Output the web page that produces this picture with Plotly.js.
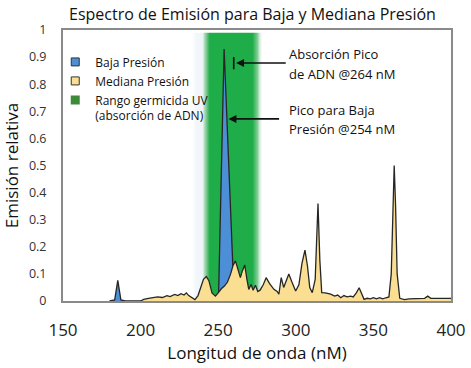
<!DOCTYPE html>
<html>
<head>
<meta charset="utf-8">
<script src="https://cdn.plot.ly/plotly-3.0.1.min.js"></script>
<style>html,body{margin:0;padding:0;background:#fff;}#chart{width:471px;height:368px;}</style>
</head>
<body>
<div id="chart"></div>
<script>
// Low pressure lamp spectrum (nm, relative emission)
const lowX = [180, 183.3, 185.3, 187.3, 190, 249.5, 250.3, 253.8, 259.5, 261];
const lowY = [0, 0.004, 0.076, 0.004, 0, 0, 0.035, 0.93, 0.12, 0];

// Medium pressure lamp spectrum
const medX = [200, 202, 205, 208, 211, 214, 217, 219, 222, 224, 226, 228, 229.5, 231, 233, 235, 237, 239, 240.5, 242.4, 244, 246, 248.2, 250, 252, 254, 256, 258, 259.5, 261.1, 262.5, 264.3, 265.5, 267.1, 268.5, 269.7, 271.2, 272.5, 274, 275.5, 277, 279, 280.9, 283, 285.9, 288, 289.1, 290.6, 292.2, 293.5, 295.5, 297.5, 299.9, 302, 304, 305.9, 307.5, 309, 310.6, 312.5, 314.3, 315.5, 316.7, 319, 322.5, 325, 327, 329, 331, 333, 335.4, 337, 339, 340.8, 342.3, 344, 346, 348, 350, 352, 354, 356, 358, 360, 361.5, 362.5, 363.4, 364.3, 365.3, 367, 370, 373, 376, 380, 383, 385, 387, 390, 395, 400];
const medY = [0, 0.006, 0.01, 0.012, 0.015, 0.013, 0.02, 0.016, 0.024, 0.02, 0.027, 0.022, 0.03, 0.02, 0.012, 0.005, 0.02, 0.05, 0.08, 0.09, 0.075, 0.03, 0.018, 0.03, 0.045, 0.055, 0.07, 0.1, 0.13, 0.148, 0.12, 0.086, 0.11, 0.133, 0.08, 0.043, 0.061, 0.04, 0.058, 0.035, 0.04, 0.06, 0.086, 0.065, 0.043, 0.035, 0.025, 0.086, 0.05, 0.07, 0.1, 0.07, 0.037, 0.06, 0.14, 0.188, 0.13, 0.05, 0.031, 0.08, 0.36, 0.15, 0.031, 0.03, 0.025, 0.018, 0.022, 0.012, 0.02, 0.015, 0.018, 0.015, 0.03, 0.049, 0.03, 0.006, 0.01, 0.008, 0.012, 0.008, 0.012, 0.008, 0.012, 0.015, 0.1, 0.35, 0.5, 0.35, 0.1, 0.01, 0.005, 0.008, 0.008, 0.01, 0.01, 0.018, 0.01, 0.01, 0.01, 0.01];

// Germicidal UV range (nm), including soft edges
const germicidalBand = [233, 279];

const seriesNames = ["Baja Presión", "Mediana Presión", "Rango germicida UV<br>(absorción de ADN)"];
const seriesColors = ["#4d8fd6", "#fadf93", "#3d8b3a"];

const xTicks = [150, 200, 250, 300, 350, 400];
const yTicks = [0, 0.1, 0.2, 0.3, 0.4, 0.5, 0.6, 0.7, 0.8, 0.9, 1];

const FONT = '"Open Sans", "Noto Sans", sans-serif';
const outline = "#262626";

const traces = [
  {
    x: [germicidalBand[0], germicidalBand[1], germicidalBand[1], germicidalBand[0], germicidalBand[0]],
    y: [0, 0, 0.99, 0.99, 0],
    mode: "lines", fill: "toself", line: {width: 0},
    fillgradient: {
      type: "horizontal",
      colorscale: [
        [0, "rgba(245,249,253,0)"],
        [0.06, "rgba(242,247,252,1)"],
        [0.15, "rgba(238,245,248,1)"],
        [0.185, "rgba(160,215,175,1)"],
        [0.25, "#1fad4a"],
        [0.85, "#1fad4a"],
        [0.92, "rgba(130,205,150,1)"],
        [1, "rgba(255,255,255,0)"]
      ]
    },
    hoverinfo: "skip", showlegend: false
  },
  {
    x: lowX, y: lowY, mode: "lines", fill: "tozeroy",
    fillcolor: seriesColors[0], line: {color: outline, width: 1.3},
    showlegend: false
  },
  {
    x: medX, y: medY, mode: "lines", fill: "tozeroy",
    fillcolor: seriesColors[1], line: {color: outline, width: 1.3},
    showlegend: false
  }
];

// Legend-only entries
seriesNames.forEach((n, i) => {
  traces.push({
    x: [null], y: [null], mode: "markers", name: n,
    marker: {symbol: "square", size: i < 2 ? 8 : 9, color: seriesColors[i],
             line: {color: i < 2 ? "#333" : seriesColors[i], width: i < 2 ? 1 : 0}},
    showlegend: true
  });
});

const arrowColor = "#111";
const textFont = {family: FONT, size: 13, color: "#111"};
const layout = {
  width: 471, height: 368,
  margin: {l: 63, r: 20, t: 30, b: 67},
  paper_bgcolor: "#fff", plot_bgcolor: "#fff",
  font: {family: FONT, color: "#111"},
  title: {
    text: "Espectro de Emisión para Baja y Mediana Presión",
    font: {family: FONT, size: 16, color: "#111"},
    x: 252.5/471, xref: "container", xanchor: "center",
    y: 1 - 14/368, yref: "container", yanchor: "middle"
  },
  xaxis: {
    range: [150, 400], tickvals: xTicks, ticktext: xTicks.map(String),
    showgrid: false, zeroline: false, showline: true, mirror: true,
    linecolor: "#8a8a8a", linewidth: 2, ticks: "",
    ticklabelstandoff: 13,
    tickfont: {family: FONT, size: 17, color: "#222"},
    title: {text: "Longitud de onda (nM)", font: {family: FONT, size: 17, color: "#111"}, standoff: 6}
  },
  yaxis: {
    range: [0, 1], tickvals: yTicks, ticktext: yTicks.map(String),
    showgrid: false, zeroline: false, showline: true, mirror: true,
    linecolor: "#8a8a8a", linewidth: 2, ticks: "",
    ticklabelstandoff: 12,
    tickfont: {family: FONT, size: 12.5, color: "#333"},
    title: {text: "Emisión relativa", font: {family: FONT, size: 17, color: "#111"}, standoff: 6}
  },
  legend: {
    x: -0.02, y: 0.935, xanchor: "left", yanchor: "top",
    bgcolor: "rgba(0,0,0,0)", borderwidth: 0,
    font: {family: FONT, size: 12, color: "#111"},
    valign: "top", tracegroupgap: 0
  },
  annotations: [
    {x: 294.5, y: 0.911, xanchor: "left", yanchor: "middle", text: "Absorción Pico"},
    {x: 294.5, y: 0.838, xanchor: "left", yanchor: "middle", text: "de ADN @264 nM"},
    {x: 294.5, y: 0.705, xanchor: "left", yanchor: "middle", text: "Pico para Baja"},
    {x: 294.5, y: 0.636, xanchor: "left", yanchor: "middle", text: "Presión @254 nM"}
  ].map(a => Object.assign({xref: "x", yref: "y", showarrow: false, font: textFont}, a)).concat([
    {x: 261.5, y: 0.878, ax: 294.5, ay: 0.878, xref: "x", yref: "y", axref: "x", ayref: "y",
     text: "", showarrow: true, arrowhead: 2, arrowsize: 1, arrowwidth: 1.6, arrowcolor: arrowColor},
    {x: 256.6, y: 0.672, ax: 290.2, ay: 0.672, xref: "x", yref: "y", axref: "x", ayref: "y",
     text: "", showarrow: true, arrowhead: 2, arrowsize: 1, arrowwidth: 1.6, arrowcolor: arrowColor}
  ]),
  shapes: [
    {type: "line", xref: "x", yref: "y", x0: 260, x1: 260, y0: 0.855, y1: 0.9,
     line: {color: arrowColor, width: 1.6}}
  ]
};

Plotly.newPlot("chart", traces, layout, {displayModeBar: false, staticPlot: true});
</script>
</body>
</html>
